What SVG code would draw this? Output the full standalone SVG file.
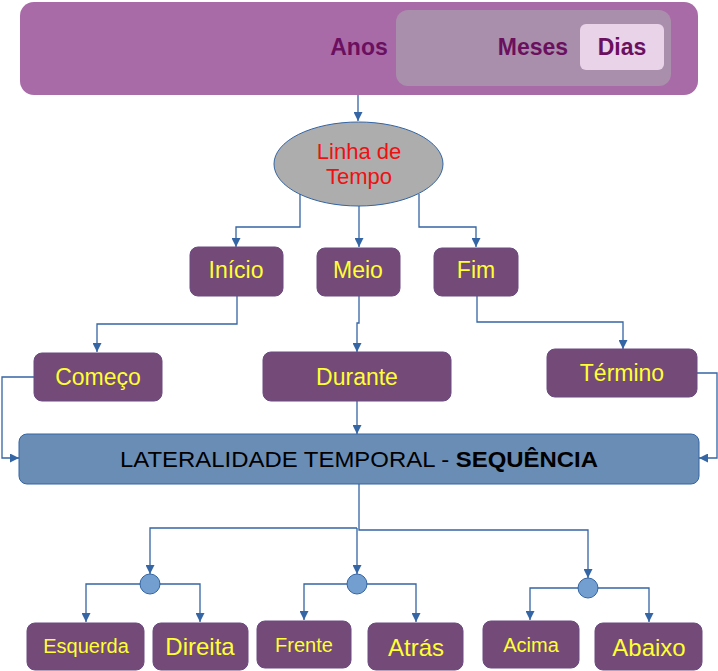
<svg xmlns="http://www.w3.org/2000/svg" width="718" height="671" viewBox="0 0 718 671">
<defs>
<marker id="ah" viewBox="0 0 10 10" refX="10" refY="5" markerWidth="10" markerHeight="9" markerUnits="userSpaceOnUse" orient="auto"><path d="M0,0 L10,5 L0,10 z" fill="#3465a4"/></marker>
<style>
.c{fill:none;stroke:#3465a4;stroke-width:1.3;marker-end:url(#ah)}
.cn{fill:none;stroke:#3465a4;stroke-width:1.3}
.box{fill:#744a78;stroke:#6a4a80;stroke-width:1}
.bt{font-family:"Liberation Sans",Arial,sans-serif;fill:#ffff33;text-anchor:middle}
.top{font-family:"Liberation Sans",Arial,sans-serif;font-weight:bold;font-size:23px;fill:#6b0f5f;text-anchor:middle}
.dot{fill:#729fcf;stroke:#3465a4;stroke-width:1}
</style>
</defs>
<rect width="718" height="671" fill="#ffffff"/>
<g id="connectors">
<path class="c" d="M358,95 V121"/>
<path class="c" d="M300,194 V227 H236 V247"/>
<path class="c" d="M359,206 V247"/>
<path class="c" d="M419,194 V227 H476 V247"/>
<path class="c" d="M237,296 V324 H97 V352"/>
<path class="c" d="M359,296 V323 H357 V352"/>
<path class="c" d="M477,296 V322 H623 V349"/>
<path class="c" d="M34,377 H2 V458 H19"/>
<path class="c" d="M697,373 H717 V458 H699"/>
<path class="c" d="M357,401 V434"/>
<path class="c" d="M359,484 V530 H588 V578"/>
<path class="c" d="M357,528 H150 V574"/>
<path class="c" d="M357,528 V574"/>
<path class="c" d="M150,584 H86 V622"/>
<path class="c" d="M150,584 H200 V622"/>
<path class="c" d="M357,584 H304 V620"/>
<path class="c" d="M357,584 H416 V622"/>
<path class="c" d="M588,588 H530 V620"/>
<path class="c" d="M588,588 H649 V622"/>
</g>
<g id="banner">
<rect x="20" y="2" width="678" height="93" rx="14" fill="#a96aa8"/>
<rect x="396" y="10" width="275" height="76" rx="12" fill="#a98fab"/>
<rect x="580" y="24" width="84" height="46" rx="6" fill="#e9d3e9"/>
<text class="top" x="359" y="55">Anos</text>
<text class="top" x="533" y="55">Meses</text>
<text class="top" x="622" y="55">Dias</text>
</g>
<g id="linha">
<ellipse cx="358.5" cy="164" rx="84.5" ry="42" fill="#adadad" stroke="#3465a4" stroke-width="1"/>
<text x="359" y="159" font-family="Liberation Sans, Arial, sans-serif" font-size="22" fill="#ee1111" text-anchor="middle">Linha de</text>
<text x="359" y="184" font-family="Liberation Sans, Arial, sans-serif" font-size="22" fill="#ee1111" text-anchor="middle">Tempo</text>
</g>
<g id="inicio"><rect class="box" x="190" y="247" width="93" height="49" rx="8"/><text class="bt" x="236" y="278" font-size="23">Início</text></g>
<g id="meio"><rect class="box" x="317" y="248" width="83" height="48" rx="8"/><text class="bt" x="358" y="278" font-size="23">Meio</text></g>
<g id="fim"><rect class="box" x="434" y="248" width="84" height="48" rx="8"/><text class="bt" x="476" y="278" font-size="23">Fim</text></g>
<g id="comeco"><rect class="box" x="34" y="353" width="128" height="48" rx="8"/><text class="bt" x="98" y="385" font-size="23">Começo</text></g>
<g id="durante"><rect class="box" x="263" y="352" width="188" height="49" rx="8"/><text class="bt" x="357" y="385" font-size="23">Durante</text></g>
<g id="termino"><rect class="box" x="547" y="349" width="150" height="48" rx="8"/><text class="bt" x="622" y="381" font-size="23">Término</text></g>
<g id="lateralidade">
<rect x="19" y="434" width="680" height="50" rx="8" fill="#6a8db6" stroke="#3465a4" stroke-width="1"/>
<text x="359" y="467" font-family="Liberation Sans, Arial, sans-serif" font-size="22" fill="#000000" text-anchor="middle" textLength="478" lengthAdjust="spacingAndGlyphs">LATERALIDADE TEMPORAL - <tspan font-weight="bold">SEQUÊNCIA</tspan></text>
</g>
<g id="dots">
<circle class="dot" cx="150" cy="584" r="10"/>
<circle class="dot" cx="357" cy="584" r="10"/>
<circle class="dot" cx="588" cy="588" r="10"/>
</g>
<g id="esquerda"><rect class="box" x="27" y="623" width="117" height="47" rx="8"/><text class="bt" x="86" y="653" font-size="20">Esquerda</text></g>
<g id="direita"><rect class="box" x="153" y="623" width="95" height="47" rx="8"/><text class="bt" x="200" y="655" font-size="24">Direita</text></g>
<g id="frente"><rect class="box" x="257" y="621" width="94" height="47" rx="8"/><text class="bt" x="304" y="652" font-size="20">Frente</text></g>
<g id="atras"><rect class="box" x="368" y="623" width="95" height="47" rx="8"/><text class="bt" x="416" y="656" font-size="24">Atrás</text></g>
<g id="acima"><rect class="box" x="483" y="621" width="96" height="47" rx="8"/><text class="bt" x="531" y="652" font-size="20">Acima</text></g>
<g id="abaixo"><rect class="box" x="595" y="623" width="107" height="47" rx="8"/><text class="bt" x="649" y="656" font-size="24">Abaixo</text></g>
</svg>
